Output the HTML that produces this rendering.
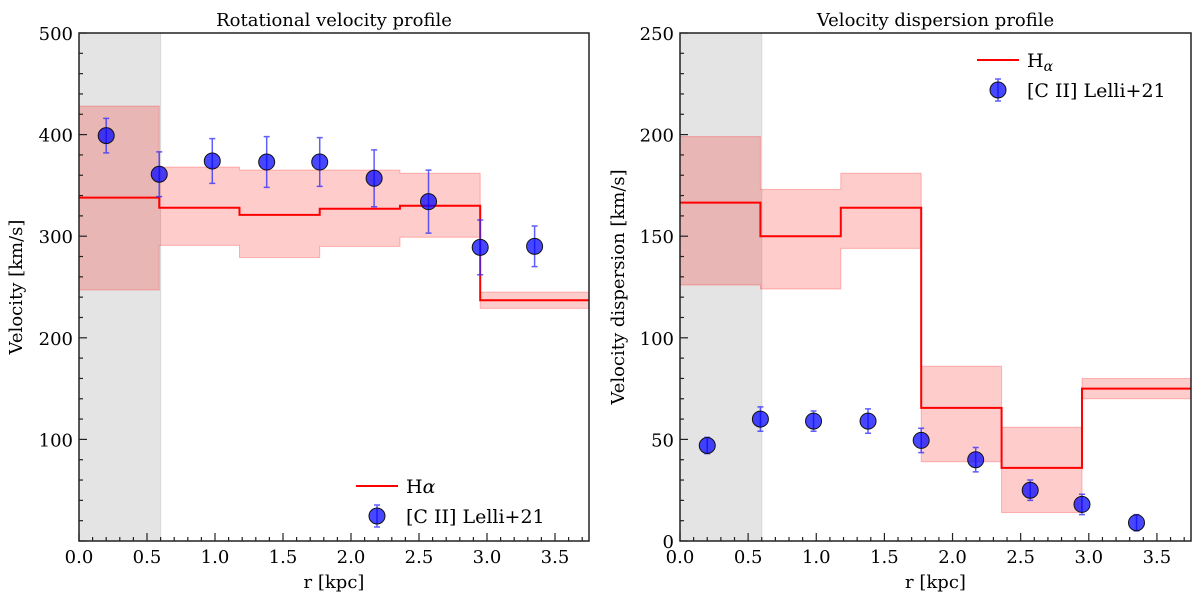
<!DOCTYPE html>
<html><head><meta charset="utf-8"><style>
body{margin:0;background:#fff;width:1200px;height:598px;overflow:hidden}
svg{display:block;font-family:"DejaVu Serif","Liberation Serif",serif}
</style></head><body>
<svg id="fig" width="1200" height="598" xmlns="http://www.w3.org/2000/svg"></svg>
<script>
const edges = [0, 0.59, 1.18, 1.77, 2.36, 2.95, 3.75];
const velHa = [338, 328, 321, 327, 330, 237];
const velLo = [247, 291, 279, 290, 299, 229];
const velHi = [428, 368, 365, 365, 362, 245];
const ciiR = [0.2, 0.59, 0.98, 1.38, 1.77, 2.17, 2.57, 2.95, 3.35];
const velCii = [399, 361, 374, 373, 373, 357, 334, 289, 290];
const velCiiErr = [17, 22, 22, 25, 24, 28, 31, 27, 20];
const sigHa = [166.5, 150, 164, 65.5, 36, 75];
const sigLo = [126, 124, 144, 39, 14, 70];
const sigHi = [199, 173, 181, 86, 56, 80];
const sigCii = [47, 60, 59, 59, 49.5, 40, 25, 18, 9];
const sigCiiErr = [4, 6, 5, 6, 6, 6, 5, 5, 4];
const xTicks = [0, 0.5, 1, 1.5, 2, 2.5, 3, 3.5];
const velTicks = [100, 200, 300, 400, 500];
const sigTicks = [0, 50, 100, 150, 200, 250];

const NS = "http://www.w3.org/2000/svg";
const svg = document.getElementById('fig');
function mk(tag, attrs, parent, text){
  const e = document.createElementNS(NS, tag);
  for (const k in attrs) e.setAttribute(k, attrs[k]);
  if (text !== undefined) e.textContent = text;
  (parent || svg).appendChild(e);
  return e;
}
function panel(o){
  const g = mk('g', {});
  
  
  const X = v => o.x0 + (v / 3.75) * (o.x1 - o.x0);
  const Y = v => o.y1 - (v - o.ymin) / (o.ymax - o.ymin) * (o.y1 - o.y0);
  const shade = mk('rect', {x: X(0), y: o.y0, width: X(0.6) - X(0), height: o.y1 - o.y0, fill: '#e4e4e4', stroke: '#d8d8d8'}, g);
  
  
  let top = '', bot = '';
  for (let i = 0; i < o.lo.length; i++) {
    top += (i === 0 ? 'M' : 'L') + X(edges[i]) + ',' + Y(o.hi[i]) + 'L' + X(edges[i+1]) + ',' + Y(o.hi[i]);
  }
  for (let i = o.lo.length - 1; i >= 0; i--) {
    bot += 'L' + X(edges[i+1]) + ',' + Y(o.lo[i]) + 'L' + X(edges[i]) + ',' + Y(o.lo[i]);
  }
  const band = mk('path', {d: top + bot + 'Z', fill: 'rgba(255,0,0,0.2)', stroke: 'rgba(255,0,0,0.25)', 'stroke-width': 1}, g);
  
  
  let d = '';
  for (let i = 0; i < o.ha.length; i++) {
    d += (i === 0 ? 'M' : 'L') + X(edges[i]) + ',' + Y(o.ha[i]) + 'L' + X(edges[i+1]) + ',' + Y(o.ha[i]);
  }
  const line = mk('path', {d: d, fill: 'none', stroke: '#ff0000', 'stroke-width': 2}, g);
  
  
  for (let i = 0; i < ciiR.length; i++) {
    const cx = X(ciiR[i]), cy = Y(o.cii[i]), e = o.err[i];
    const eb = mk('path', {d: `M${cx},${Y(o.cii[i]-e)}V${Y(o.cii[i]+e)}M${cx-3},${Y(o.cii[i]-e)}H${cx+3}M${cx-3},${Y(o.cii[i]+e)}H${cx+3}`, stroke: 'rgba(40,40,255,0.75)', 'stroke-width': 1.5, fill: 'none'}, g);
    
    
    const c = mk('circle', {cx: cx, cy: cy, r: 8, fill: 'rgba(0,0,255,0.72)', stroke: '#111', 'stroke-width': 1}, g);
    
    
  }
  mk('rect', {x: o.x0, y: o.y0, width: o.x1 - o.x0, height: o.y1 - o.y0, fill: 'none', stroke: '#222', 'stroke-width': 1.5}, g);
  for (let t = 0; t <= 37; t++) {
    const v = t / 10, x = X(v), major = t % 5 === 0;
    mk('line', {x1: x, x2: x, y1: o.y1, y2: o.y1 - (major ? 8 : 4), stroke: '#222', 'stroke-width': 1.2}, g);
  }
  xTicks.forEach(v => {
    const t = mk('text', {x: X(v), y: o.y1 + 22, 'text-anchor': 'middle', 'font-size': 18}, g, v.toFixed(1));
    
    
  });
  for (let v = o.ymin; v <= o.ymax; v += o.minor) {
    const major = Math.abs(v % o.major) < 1e-6;
    mk('line', {x1: o.x0, x2: o.x0 + (major ? 8 : 4), y1: Y(v), y2: Y(v), stroke: '#222', 'stroke-width': 1.2}, g);
  }
  o.yticks.forEach(v => {
    const t = mk('text', {x: o.x0 - 6, y: Y(v) + 7, 'text-anchor': 'end', 'font-size': 18}, g, String(v));
    
    
  });
  const xl = mk('text', {x: (o.x0 + o.x1) / 2, y: 588, 'text-anchor': 'middle', 'font-size': 18}, g, 'r [kpc]');
  
  
  const yl = mk('text', {x: 0, y: 0, 'text-anchor': 'middle', 'font-size': 18, transform: `translate(${o.ylx},${(o.y0 + o.y1) / 2}) rotate(-90)`}, g, o.ylabel);
  
  
  const ti = mk('text', {x: (o.x0 + o.x1) / 2, y: 26, 'text-anchor': 'middle', 'font-size': 18}, g, o.title);
  
  
  const lg = mk('g', {}, g);
  
  
  mk('line', {x1: o.lx, x2: o.lx + 42, y1: o.ly, y2: o.ly, stroke: '#ff0000', 'stroke-width': 2}, lg);
  const t1 = mk('text', {x: o.lx + 50, y: o.ly + 7, 'font-size': 19}, lg);
  
  
  mk('tspan', {}, t1, 'H');
  if (o.sub) mk('tspan', {'font-style': 'italic', 'font-size': 14, dy: 4}, t1, 'α');
  else mk('tspan', {'font-style': 'italic'}, t1, 'α');
  const px = o.lx + 21, py = o.ly + 30;
  mk('path', {d: `M${px},${py-11}V${py+11}M${px-3},${py-11}H${px+3}M${px-3},${py+11}H${px+3}`, stroke: 'rgba(40,40,255,0.75)', 'stroke-width': 1.5}, lg);
  mk('circle', {cx: px, cy: py, r: 8, fill: 'rgba(0,0,255,0.72)', stroke: '#111'}, lg);
  const t2 = mk('text', {x: o.lx + 50, y: py + 7, 'font-size': 19}, lg, '[C II] Lelli+21');
  
  
}
panel({name: 'rotational-velocity-panel', x0: 79, x1: 589, y0: 33, y1: 541, ymin: 0, ymax: 500, minor: 20, major: 100,
  ha: velHa, lo: velLo, hi: velHi, cii: velCii, err: velCiiErr, yticks: velTicks,
  ylabel: 'Velocity [km/s]', title: 'Rotational velocity profile', ylx: 22, lx: 356, ly: 486, sub: false});
panel({name: 'velocity-dispersion-panel', x0: 680, x1: 1191, y0: 33, y1: 541, ymin: 0, ymax: 250, minor: 10, major: 50,
  ha: sigHa, lo: sigLo, hi: sigHi, cii: sigCii, err: sigCiiErr, yticks: sigTicks,
  ylabel: 'Velocity dispersion [km/s]', title: 'Velocity dispersion profile', ylx: 624, lx: 977, ly: 60, sub: true});
</script>
</body></html>
